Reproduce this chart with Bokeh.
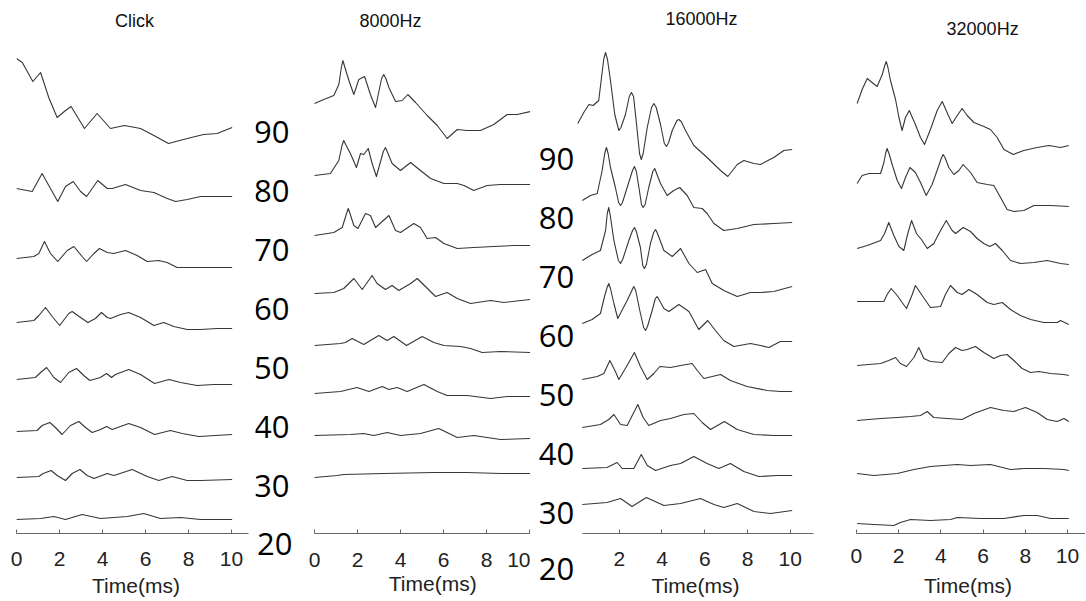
from bokeh.plotting import figure
from bokeh.models import Range1d, FixedTicker, LinearAxis
from bokeh.layouts import row
from bokeh.embed import file_html
from bokeh.resources import INLINE
from bokeh.core.properties import value

levels = [90, 80, 70, 60, 50, 40, 30, 20]
panel_titles = ["Click", "8000Hz", "16000Hz", "32000Hz"]
x_label = "Time(ms)"

# ---- Click: time (ms) and amplitude (a.u., relative to the start of each trace) ----
click_t = [
    [0, 0.27, 0.76, 1.12, 1.5, 1.89, 2.28, 2.54, 3.16, 3.75, 4.37, 5.02, 5.77, 6.39, 7.07, 7.94, 8.7, 9.33, 10.03],
    [0, 0.73, 1.19, 1.58, 1.92, 2.28, 2.64, 2.98, 3.26, 3.78, 4.22, 4.45, 5.07, 5.77, 6.39, 7.01, 7.4, 7.94, 8.56, 9.33, 10.03],
    [0, 0.81, 1.04, 1.30, 1.58, 1.92, 2.36, 2.67, 3.05, 3.26, 3.60, 3.86, 4.22, 4.53, 5.07, 5.61, 6.08, 6.62, 7.01, 7.47, 8.56, 9.33, 10.03],
    [0, 0.81, 1.04, 1.35, 1.66, 2.01, 2.43, 2.59, 2.98, 3.32, 3.67, 3.95, 4.22, 4.37, 4.84, 5.22, 5.77, 6.39, 6.85, 7.32, 7.94, 8.56, 9.33, 10.03],
    [0, 0.88, 1.12, 1.40, 1.74, 2.05, 2.43, 2.79, 3.13, 3.41, 3.90, 4.19, 4.42, 4.60, 5.22, 5.77, 6.42, 7.09, 7.63, 8.40, 9.18, 10.03],
    [0, 0.96, 1.19, 1.55, 1.81, 2.12, 2.51, 2.90, 3.21, 3.52, 3.91, 4.19, 4.45, 5.22, 5.77, 6.42, 7.16, 7.71, 8.48, 9.26, 10.03],
    [0, 1.04, 1.24, 1.61, 1.89, 2.28, 2.59, 2.95, 3.29, 3.60, 4.22, 4.53, 5.38, 6.08, 6.62, 7.24, 7.94, 8.56, 10.03],
    [0, 1.12, 1.74, 2.28, 3.05, 3.91, 4.53, 5.15, 5.92, 6.70, 7.63, 8.56, 10.03],
]
click_a = [
    [0, -4, -23, -14, -39, -59, -52, -48, -70, -55, -70, -67, -70, -77, -85, -80, -76, -75, -69],
    [0, -3, 15, 0, -13, 2, 7, -3, -8, 8, 0, 0, 4, -2, -4, -10, -13, -11, -8, -8, -8],
    [0, 2, 5, 17, 5, -3, 8, 12, 2, -3, 5, 10, 6, 5, 8, 3, -3, -2, -4, -9, -9, -9, -9],
    [0, 2, 7, 15, 6, -3, 9, 11, 5, 0, 4, 10, 5, 4, 8, 10, 5, -3, 0, -4, -7, -7, -6, -6],
    [0, 2, 7, 12, 2, -3, 7, 11, 4, -1, 2, 6, 2, 5, 10, 5, -4, 0, -3, -6, -5, -5],
    [0, 1, 6, 9, 4, -3, 6, 10, 4, -1, 2, 5, 2, 8, 4, -3, 1, -2, -5, -4, -3],
    [0, 1, 4, 7, 2, -3, 4, 8, 2, -1, 4, 2, 8, 1, -3, 1, -3, -3, -2],
    [0, 1, 3, 0, 5, 1, 2, 3, 6, 1, 2, 0, 0],
]
click_offset = [470, 340, 270, 206, 149, 97, 51, 9]

# ---- 8000 Hz ----
f8k_t = [
    [0, 0.43, 0.90, 1.13, 1.25, 1.32, 1.40, 1.60, 1.83, 2.06, 2.33, 2.60, 2.84, 3.12, 3.22, 3.32, 3.46, 3.77, 4.08, 4.34, 4.70, 5.24, 5.71, 6.17, 6.64, 7.10, 7.72, 8.34, 8.96, 9.43, 10.05],
    [0, 0.74, 1.13, 1.28, 1.36, 1.45, 1.67, 1.95, 2.14, 2.29, 2.50, 2.68, 2.88, 3.20, 3.30, 3.40, 3.61, 4.00, 4.47, 4.93, 5.40, 6.02, 6.64, 6.95, 7.41, 8.03, 8.65, 9.27, 10.05],
    [0, 0.90, 1.29, 1.49, 1.57, 1.65, 1.83, 2.02, 2.37, 2.60, 2.84, 3.46, 3.77, 4.00, 4.62, 4.93, 5.24, 5.63, 6.02, 6.64, 7.41, 8.34, 9.27, 10.05],
    [0, 0.90, 1.36, 1.83, 2.22, 2.68, 2.91, 3.30, 3.61, 3.92, 4.47, 4.78, 5.16, 5.63, 6.17, 6.64, 7.26, 8.19, 8.81, 10.05],
    [0, 1.21, 1.44, 1.75, 2.29, 2.99, 3.38, 3.69, 4.28, 5.01, 5.55, 6.02, 6.79, 7.26, 7.80, 8.65, 10.05],
    [0, 1.21, 1.98, 2.53, 3.15, 3.46, 3.85, 4.31, 5.09, 5.71, 6.17, 7.10, 8.19, 8.96, 10.05],
    [0, 1.67, 2.29, 2.76, 3.38, 4.00, 4.93, 5.78, 6.64, 7.41, 8.03, 8.65, 10.05],
    [0, 1.05, 1.36, 3.22, 5.55, 7.10, 8.65, 10.05],
]
f8k_a = [
    [0, 4, 8, 19, 36, 43, 37, 23, 9, 24, 27, 9, -4, 25, 29, 25, 16, 2, 3, 9, 1, -12, -22, -35, -26, -27, -27, -21, -11, -11, -8],
    [0, 2, 15, 30, 35, 31, 22, 8, 22, 21, 27, 12, -1, 24, 28, 23, 12, 5, 13, 5, -3, -8, -8, -10, -15, -10, -9, -9, -9],
    [0, 3, 8, 22, 27, 22, 10, 7, 22, 20, 8, 20, 5, 3, 12, 8, -3, -2, -8, -13, -12, -11, -10, -10],
    [0, 1, 5, 15, 4, 18, 10, 4, 8, 3, 10, 15, 7, -3, 1, -5, -10, -7, -9, -6],
    [0, 2, 3, 7, 1, 10, 5, 9, 0, 9, 3, 0, -1, -3, -7, -6, -7],
    [0, 2, 6, 2, 7, 4, 6, 2, 9, 2, -2, -2, -5, -3, -3],
    [0, 1, 2, 0, 3, 0, 2, 7, -2, 0, -2, -4, -3],
    [0, 2, 3, 4, 5, 5, 4, 4],
]
f8k_offset = [435, 363, 303, 245, 193, 145, 103, 61]

# ---- 16000 Hz ----
f16k_t = [
    [0.06, 0.34, 0.58, 0.78, 1.04, 1.17, 1.28, 1.36, 1.45, 1.59, 1.79, 1.98, 2.08, 2.29, 2.47, 2.57, 2.67, 2.81, 2.95, 3.03, 3.12, 3.31, 3.51, 3.62, 3.73, 3.93, 4.11, 4.21, 4.31, 4.48, 4.70, 4.79, 4.90, 5.10, 5.49, 6.11, 6.74, 7.08, 7.52, 7.83, 8.30, 8.61, 9.23, 9.70, 10.09],
    [0.27, 0.65, 0.97, 1.20, 1.32, 1.40, 1.48, 1.59, 1.82, 1.97, 2.06, 2.15, 2.37, 2.62, 2.71, 2.80, 2.92, 3.04, 3.12, 3.21, 3.38, 3.57, 3.66, 3.75, 3.93, 4.24, 4.55, 4.83, 5.18, 5.49, 5.88, 6.11, 6.43, 6.89, 7.52, 8.30, 9.23, 10.09],
    [0.27, 0.73, 1.12, 1.36, 1.44, 1.51, 1.58, 1.75, 1.96, 2.06, 2.16, 2.45, 2.62, 2.71, 2.80, 2.99, 3.10, 3.18, 3.27, 3.46, 3.61, 3.70, 3.79, 4.09, 4.48, 4.87, 5.26, 5.65, 6.04, 6.35, 6.74, 6.89, 7.52, 8.14, 8.61, 9.23, 10.09],
    [0.27, 0.73, 1.12, 1.31, 1.43, 1.51, 1.59, 1.75, 1.93, 2.37, 2.59, 2.68, 2.77, 2.96, 3.14, 3.23, 3.32, 3.54, 3.69, 3.77, 3.86, 4.09, 4.32, 4.79, 5.26, 5.72, 6.14, 6.50, 6.89, 7.36, 8.14, 8.61, 9.00, 9.54, 10.09],
    [0.27, 0.97, 1.28, 1.56, 1.82, 1.98, 2.34, 2.71, 2.99, 3.31, 3.62, 3.90, 4.40, 4.87, 5.41, 5.65, 5.96, 6.35, 6.74, 7.20, 7.98, 8.92, 9.54, 10.09],
    [0.27, 1.12, 1.51, 1.75, 2.06, 2.37, 2.87, 3.12, 3.38, 3.93, 4.40, 5.02, 5.49, 5.88, 6.27, 6.92, 7.52, 8.30, 9.23, 10.09],
    [0.27, 1.43, 1.90, 2.14, 2.68, 3.03, 3.31, 3.70, 4.40, 4.87, 5.49, 6.11, 6.66, 7.20, 7.83, 8.53, 9.39, 10.09],
    [0.27, 1.43, 2.06, 2.60, 3.27, 4.09, 4.87, 5.80, 6.43, 6.89, 7.52, 8.30, 9.08, 10.09],
]
f16k_a = [
    [0, 11, 19, 18, 23, 46, 65, 71, 64, 43, 9, -7, -4, 9, 27, 31, 27, -1, -30, -36, -30, -4, 16, 20, 16, -1, -20, -23, -19, -7, 3, 4, 2, -7, -22, -34, -47, -53, -41, -37, -40, -41, -34, -27, -26],
    [0, 5, 7, 30, 47, 53, 47, 33, 13, -2, -5, -2, 13, 30, 34, 29, 13, -4, -7, -4, 13, 29, 32, 27, 17, 5, 10, 13, 5, -7, -8, -13, -23, -30, -28, -24, -23, -22],
    [0, 6, 10, 30, 47, 53, 45, 20, 0, -3, 1, 20, 30, 33, 29, 13, -5, -8, -4, 17, 28, 31, 27, 10, 4, 12, -3, -12, -9, -23, -28, -30, -36, -32, -32, -31, -26],
    [0, 4, 10, 27, 36, 40, 35, 20, 5, 23, 33, 37, 33, 13, -4, -7, -3, 13, 25, 27, 24, 15, 12, 19, 12, -6, 3, -7, -17, -23, -20, -22, -24, -18, -18],
    [0, 3, 6, 19, 8, 0, 13, 27, 13, 0, 6, 13, 12, 14, 16, 9, 1, 3, 5, -1, -7, -11, -12, -12],
    [0, 3, 8, 13, 3, 2, 23, 10, 2, 7, 9, 13, 14, 5, -2, 6, -2, -7, -8, -8],
    [0, 1, 6, 0, 0, 14, 3, -2, 3, 5, 12, 5, 0, 5, -3, -8, -7, -7],
    [0, 2, 6, -2, 7, -1, 1, 6, 0, -3, 1, -7, -9, -6],
]
f16k_offset = [414, 337, 277, 214, 158, 110, 69, 33]

# ---- 32000 Hz ----
f32k_t = [
    [0.04, 0.28, 0.52, 0.75, 0.99, 1.23, 1.35, 1.42, 1.50, 1.62, 1.86, 2.02, 2.17, 2.33, 2.51, 2.80, 3.04, 3.23, 3.51, 3.83, 4.07, 4.34, 4.54, 4.78, 5.01, 5.25, 5.57, 6.04, 6.35, 6.67, 6.99, 7.43, 7.93, 8.56, 9.12, 9.67, 10.06],
    [0.04, 0.28, 0.60, 1.15, 1.31, 1.39, 1.46, 1.55, 1.70, 1.94, 2.14, 2.33, 2.54, 2.80, 3.04, 3.31, 3.59, 3.91, 4.02, 4.11, 4.20, 4.38, 4.62, 4.86, 5.06, 5.41, 5.72, 6.20, 6.51, 6.83, 7.14, 7.46, 7.93, 8.41, 9.20, 10.06],
    [0.04, 0.52, 1.15, 1.34, 1.54, 1.78, 2.02, 2.25, 2.44, 2.62, 2.85, 3.12, 3.36, 3.67, 3.99, 4.26, 4.54, 4.70, 5.06, 5.41, 5.72, 6.04, 6.32, 6.59, 6.91, 7.30, 7.77, 8.41, 9.04, 9.67, 10.06],
    [0.04, 1.31, 1.46, 1.65, 1.94, 2.17, 2.38, 2.65, 2.80, 3.12, 3.51, 3.99, 4.22, 4.46, 4.78, 5.01, 5.33, 5.72, 6.20, 6.51, 6.91, 7.30, 7.77, 8.25, 8.88, 9.51, 9.67, 10.06],
    [0.04, 1.15, 1.54, 1.86, 2.09, 2.38, 2.73, 2.96, 3.20, 3.51, 4.07, 4.38, 4.70, 5.01, 5.25, 5.64, 6.04, 6.51, 6.83, 7.14, 7.46, 7.85, 8.25, 8.64, 9.20, 9.83, 10.06],
    [0.04, 1.15, 1.94, 2.57, 3.04, 3.36, 3.67, 4.30, 5.01, 5.57, 6.35, 6.99, 7.46, 8.01, 8.56, 9.04, 9.51, 9.83, 10.06],
    [0.04, 0.83, 1.94, 2.73, 3.51, 4.78, 5.41, 6.35, 7.30, 7.93, 8.88, 9.83, 10.06],
    [0.04, 0.83, 1.78, 2.09, 2.57, 3.51, 4.46, 4.78, 5.88, 6.99, 7.93, 8.56, 9.20, 10.06],
]
f32k_a = [
    [0, 14, 25, 21, 17, 29, 38, 42, 36, 23, 4, -14, -27, -14, -7, -21, -34, -41, -26, -7, 2, -11, -20, -12, -5, -12, -19, -23, -26, -34, -46, -51, -47, -44, -42, -44, -42],
    [0, 8, 10, 10, 21, 30, 35, 30, 19, 3, -5, 6, 16, 11, 1, -12, -1, 18, 25, 29, 26, 16, 9, 13, 19, 11, 1, -1, -2, -14, -26, -28, -27, -22, -22, -23],
    [0, 3, 8, 15, 26, 13, 2, -2, 15, 28, 15, 8, 0, 5, 18, 28, 18, 15, 21, 17, 10, 5, 2, 5, -2, -12, -15, -14, -12, -15, -16],
    [0, 0, 7, 13, 6, -1, -7, 7, 16, 6, -6, -5, 7, 16, 9, 7, 12, 7, -1, -3, -1, -8, -14, -18, -21, -21, -19, -23],
    [0, 2, 5, 8, 2, -1, 8, 18, 7, 4, 3, 12, 18, 15, 16, 19, 13, 7, 10, 11, 5, -3, -7, -6, -8, -9, -10],
    [0, 2, 3, 4, 5, 9, 3, 2, 1, 7, 13, 10, 9, 13, 8, 1, -1, 2, -1],
    [0, -2, 0, 4, 7, 9, 8, 9, 4, 5, 5, 4, 3],
    [0, -1, -2, 1, 4, 3, 4, 6, 5, 5, 8, 8, 5, 5],
]
f32k_offset = [430, 350, 285, 232, 168, 113, 60, 10]

# level-label rows (same vertical units as the neighbouring panel)
click_label_y = [397, 338, 279, 220, 161, 102, 43]
f16k_label_y = [379, 320, 261, 202, 143, 84, 25]

H = 600
BB = 67            # common bottom border (frames are aligned in a row)
TRACE_COLOR = "#363636"
AXIS_COLOR = "#666666"
SANS = "Liberation Sans"


def no_ticks(ax):
    ax.axis_line_color = None
    ax.major_tick_line_color = None
    ax.minor_tick_line_color = None
    ax.major_tick_in = 0
    ax.major_tick_out = 0
    ax.minor_tick_in = 0
    ax.minor_tick_out = 0


def style_axis(ax, ticks, bounds, standoff):
    ax.ticker = FixedTicker(ticks=ticks)
    ax.bounds = bounds
    ax.major_tick_in = 4
    ax.major_tick_out = 0
    ax.minor_tick_in = 0
    ax.minor_tick_out = 0
    ax.axis_line_color = AXIS_COLOR
    ax.major_tick_line_color = AXIS_COLOR
    ax.major_label_text_font = SANS
    ax.major_label_text_font_size = "21px"
    ax.major_label_text_color = "#222222"
    ax.major_label_standoff = standoff


def make_panel(title, times, amps, offsets, width, xr, yr, b_left, b_right,
               bounds, ticks, standoff, label_standoff, title_pos):
    p = figure(width=width, height=H, x_range=Range1d(*xr), y_range=Range1d(*yr),
               output_backend="svg", toolbar_location=None, y_axis_location=None,
               min_border_left=b_left, min_border_right=b_right, min_border_top=0,
               min_border_bottom=BB)
    p.grid.visible = False
    p.outline_line_color = None
    ax = p.xaxis[0]
    style_axis(ax, ticks, bounds, standoff)
    if label_standoff is not None:
        ax.axis_label = x_label
        ax.axis_label_text_font = SANS
        ax.axis_label_text_font_size = "21px"
        ax.axis_label_text_font_style = "normal"
        ax.axis_label_text_color = "#222222"
        ax.axis_label_standoff = label_standoff

    for t, a, off in zip(times, amps, offsets):
        p.line(t, [off + v for v in a], line_color=TRACE_COLOR, line_width=1.1,
               line_join="round")

    p.text(x=[title_pos[0]], y=[title_pos[1]], text=[title], text_font=value(SANS),
           text_font_size="18px", text_color="#111111", text_align="center",
           text_baseline="middle")
    return p


def make_label_column(width, xr, yr, x_pos, ys, last_standoff):
    q = figure(width=width, height=H, x_range=Range1d(*xr), y_range=Range1d(*yr),
               output_backend="svg", toolbar_location=None, y_axis_location=None,
               min_border_left=0, min_border_right=0, min_border_top=0,
               min_border_bottom=BB)
    q.grid.visible = False
    q.outline_line_color = None
    q.text(x=[x_pos] * len(ys), y=ys, text=[str(v) for v in levels[:len(ys)]],
           text_font=value("Open Sans"), text_font_size="31px", text_color="black",
           text_align="center", text_baseline="middle")
    # the lowest level sits below the frame line: it is drawn as the single tick label
    ax = q.xaxis[0]
    ax.ticker = FixedTicker(ticks=[x_pos])
    ax.major_label_overrides = {x_pos: str(levels[-1])}
    no_ticks(ax)
    ax.major_label_text_font = "Open Sans"
    ax.major_label_text_font_size = "31px"
    ax.major_label_text_color = "black"
    ax.major_label_standoff = last_standoff
    return q


p1 = make_panel(panel_titles[0], click_t, click_a, click_offset, 255, (0, 11.116), (-5, 528), 16, 0,
                (0, 10.8), [0, 2, 4, 6, 8, 10], 18, 5, (5.49, 508))
pa = make_label_column(50, (11.116, 13.442), (-5, 528), 11.875, click_label_y, -1)
p2 = make_panel(panel_titles[1], f8k_t, f8k_a, f8k_offset, 225, (-0.419, 10.047), (5, 538), 0, 0,
                (0, 10.05), [0, 2, 4, 6, 8, 10], 19, None, (3.53, 518))
# axis title of the 8000 Hz panel sits right of the frame centre: own label-only axis
ax2 = LinearAxis(ticker=FixedTicker(ticks=[5.5]), major_label_overrides={5.5: x_label},
                 major_label_text_font=SANS, major_label_text_font_size="21px",
                 major_label_text_color="#222222", major_label_standoff=2)
no_ticks(ax2)
p2.add_layout(ax2, "below")
pb = make_label_column(46, (-2.152, 0), (4, 537), -0.9375, f16k_label_y, 24)
p3 = make_panel(panel_titles[2], f16k_t, f16k_a, f16k_offset, 259, (0, 11.135), (4, 537), 0, 21,
                (0.28, 11.1), [2, 4, 6, 8, 10], 18, 5, (5.85, 519))
p4 = make_panel(panel_titles[3], f32k_t, f32k_a, f32k_offset, 250, (-0.272, 10.85), (0, 533), 15, 0,
                (0, 10.85), [0, 2, 4, 6, 8, 10], 15, 8, (5.98, 505))

layout = row(p1, pa, p2, pb, p3, p4)
open("out.html", "w").write(file_html(layout, INLINE))
